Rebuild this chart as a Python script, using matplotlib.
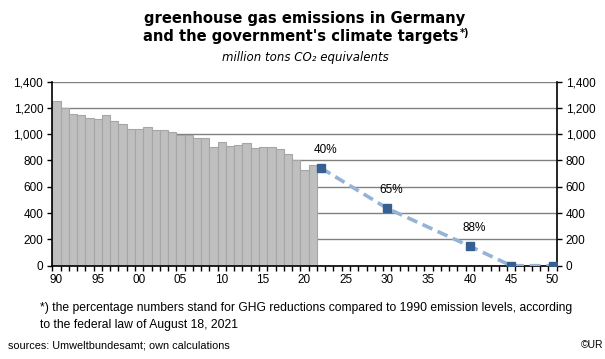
import numpy as np
import matplotlib
matplotlib.use('Agg')
import matplotlib.pyplot as plt

# emissions 1990-2021 (million t CO2 eq.)
years = list(range(1990, 2022))
emissions = [1248, 1202, 1150, 1142, 1124, 1118, 1142, 1100, 1080, 1042,
             1042, 1056, 1034, 1034, 1017, 990, 996, 972, 972, 902,
             940, 911, 920, 935, 897, 903, 903, 888, 851, 803,
             730, 762]

# government targets
target_years = [2022, 2030, 2040, 2045, 2050]
target_values = [742, 436, 148, 0, 0]
target_labels = {2022: '40%', 2030: '65%', 2040: '88%'}

tick_years = list(range(1990, 2051, 5))
tick_labels = ['%02d' % (y % 100) for y in tick_years]

fig = plt.figure(figsize=(6.05, 3.59), dpi=100)
ax = fig.add_axes([52.3 / 605, 1 - 265.7 / 359, (556.7 - 52.3) / 605, (265.7 - 81.5) / 359])

ax.bar(years, emissions, width=1.0, color='#BFBFBF', edgecolor='#A6A6A6', linewidth=0.8, zorder=2)
ax.plot(target_years, target_values, color='#95B3D7', lw=2.6, dashes=(3, 1.6), zorder=3)
ax.plot(target_years, target_values, ls='none', marker='s', ms=5.5, color='#366092', zorder=4)

for yr, lab in target_labels.items():
    v = target_values[target_years.index(yr)]
    ax.annotate(lab, (yr, v), xytext=(4, 18), textcoords='offset pixels',
                ha='center', va='center', fontsize=8.5, family='Liberation Sans')

ax.set_xlim(1989.5, 2050.5)
ax.set_ylim(0, 1400)
ax.set_yticks(range(0, 1401, 200))
ax.set_yticklabels(['{:,}'.format(v) for v in range(0, 1401, 200)])
ax.grid(axis='y', color='#808080', lw=1, zorder=1)
ax.set_axisbelow(True)

ax.set_xticks(tick_years)
ax.set_xticklabels(tick_labels)
ax.set_xticks(np.arange(1989.5, 2051, 1), minor=True)
ax.tick_params(axis='x', which='major', length=0, pad=6)
ax.tick_params(axis='x', which='minor', length=3.5, width=1, direction='out')
ax.tick_params(axis='y', length=3.5, width=1, direction='out', left=True, right=True,
               labelleft=True, labelright=True, pad=3)

for lab in ax.get_xticklabels() + ax.get_yticklabels():
    lab.set_family('Liberation Sans')
    lab.set_fontsize(8.5)

ax.spines['top'].set_visible(False)
for s in ['left', 'right', 'bottom']:
    ax.spines[s].set_linewidth(1.2)
    ax.spines[s].set_color('black')

# titles
fig.text(0.503, 1 - 19 / 359, 'greenhouse gas emissions in Germany', ha='center', va='center',
         fontsize=10.6, fontweight='bold', family='DejaVu Sans')
t2 = fig.text(0.497, 1 - 37 / 359, "and the government's climate targets", ha='center', va='center',
              fontsize=10.6, fontweight='bold', family='DejaVu Sans')
fig.canvas.draw()
bb = t2.get_window_extent(fig.canvas.get_renderer())
fig.text(bb.x1 / 605 + 0.002, 1 - 33 / 359, '*)', ha='left', va='center', fontsize=7,
         fontweight='bold', family='DejaVu Sans')
fig.text(0.505, 1 - 58 / 359, 'million tons CO\u2082 equivalents', ha='center', va='center',
         fontsize=8.5, style='italic', family='DejaVu Sans')

# footnotes
fig.text(40 / 605, 1 - 308 / 359, '*) the percentage numbers stand for GHG reductions compared to 1990 emission levels, according',
         ha='left', va='center', fontsize=8.7, family='Liberation Sans')
fig.text(40 / 605, 1 - 325 / 359, 'to the federal law of August 18, 2021',
         ha='left', va='center', fontsize=8.7, family='Liberation Sans')
fig.text(8 / 605, 1 - 345 / 359, 'sources: Umweltbundesamt; own calculations',
         ha='left', va='center', fontsize=7.85, family='Liberation Sans')
fig.text(603 / 605, 1 - 345 / 359, '\u00a9UR', ha='right', va='center', fontsize=7.5,
         family='Liberation Sans')

fig.savefig('out.png', dpi=100)
